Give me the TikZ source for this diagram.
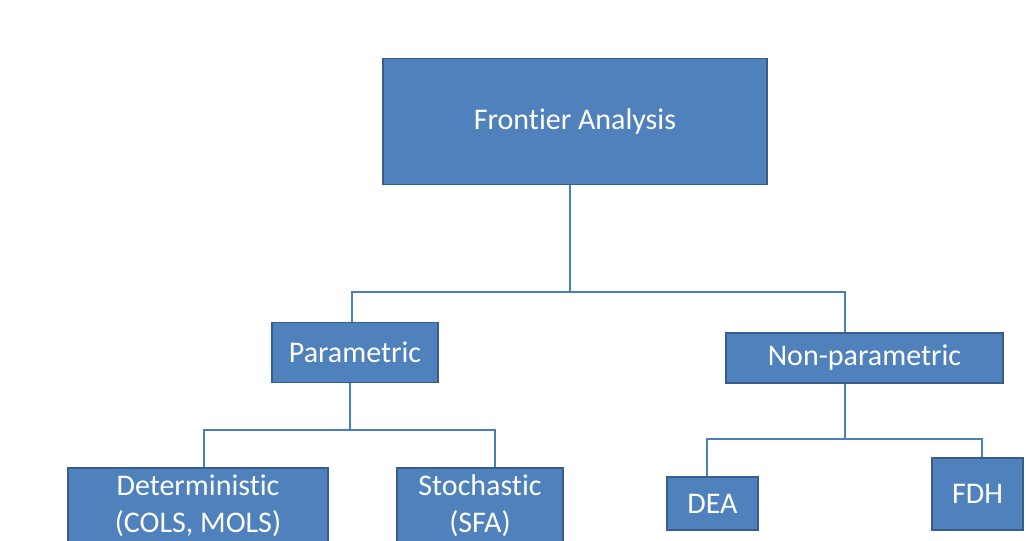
\documentclass[tikz,border=0pt]{standalone}
\usepackage{fontspec}
\setmainfont{Carlito}[Ligatures=NoCommon]
\definecolor{boxfill}{HTML}{4F81BD}
\definecolor{boxline}{HTML}{385D8A}
\definecolor{conn}{HTML}{4A7EBB}
\begin{document}
\begin{tikzpicture}[x=1pt,y=-1pt,
  box/.style={rectangle,fill=boxfill,draw=boxline,line width=1.5pt,text=white,
    inner sep=0pt,align=center,font=\fontsize{30}{37}\selectfont},
  link/.style={draw=conn,line width=2.3pt}]
\useasboundingbox (0,0) rectangle (1026,541);
\begin{scope}
\clip (0,0) rectangle (1026,541);
\node[box,minimum width=384,minimum height=126] (fa) at (575,121.5) {Frontier Analysis};
\node[box,minimum width=166,minimum height=60] (par) at (355,352.5) {Parametric};
\node[box,minimum width=277,minimum height=50] (np) at (864.5,358) {Non-parametric};
\node[box,minimum width=260,minimum height=76] (det) at (198,506) {Deterministic\\(COLS, MOLS)};
\node[box,minimum width=166,minimum height=76] (sto) at (480,506) {Stochastic\\(SFA)};
\node[box,minimum width=91,minimum height=53] (dea) at (712.5,503.5) {DEA};
\node[box,minimum width=91,minimum height=72] (fdh) at (977.5,494) {FDH};
\coordinate (t) at (570,292);
\coordinate (tl) at (352,292);
\coordinate (tr) at (845,292);
\coordinate (p) at (350,430);
\coordinate (pl) at (204,430);
\coordinate (pr) at (495,430);
\coordinate (n) at (845,439);
\coordinate (nl) at (707,439);
\coordinate (nr) at (982,439);
\draw[link] (t |- fa.south) -- (t);
\draw[link] (tl |- par.north) -- (tl) -- (tr) -- (tr |- np.north);
\draw[link] (p |- par.south) -- (p);
\draw[link] (pl |- det.north) -- (pl) -- (pr) -- (pr |- sto.north);
\draw[link] (n |- np.south) -- (n);
\draw[link] (nl |- dea.north) -- (nl) -- (nr) -- (nr |- fdh.north);
\end{scope}
\end{tikzpicture}
\end{document}
